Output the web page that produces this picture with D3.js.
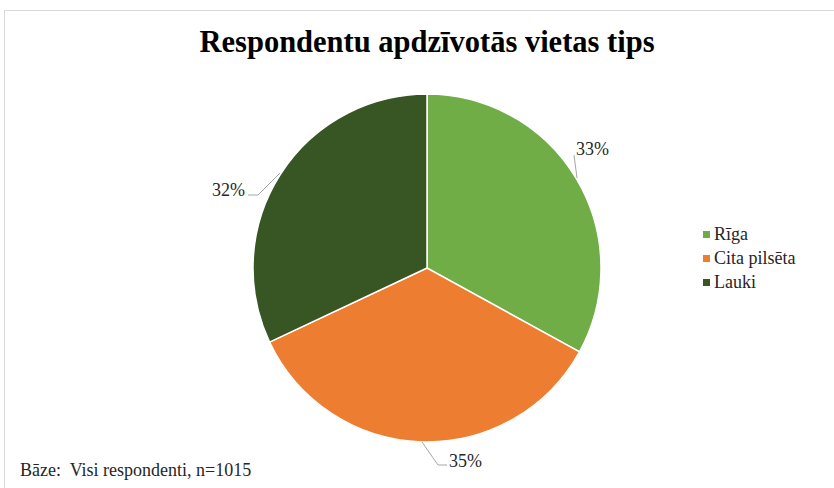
<!DOCTYPE html>
<html>
<head>
<meta charset="utf-8">
<script src="https://cdn.jsdelivr.net/npm/d3@7"></script>
<style>
  body { margin: 0; background: #fff; }
</style>
</head>
<body>
<div id="chart"></div>
<script>
// data
var categories = ["Rīga", "Cita pilsēta", "Lauki"];
var shares = [33, 35, 32];
var colors = ["#70AD47", "#ED7D31", "#375623"];
var titleText = "Respondentu apdzīvotās vietas tips";
var baseText = "Bāze:  Visi respondenti, n=1015";

var width = 834, height = 488;
var cx = 427, cy = 268, radius = 174;
var serif = "'Liberation Serif', 'Times New Roman', serif";

var svg = d3.select("#chart")
    .append("svg")
    .attr("width", width)
    .attr("height", height)
    .attr("font-family", serif);

// chart frame
svg.append("rect")
    .attr("x", 4.5).attr("y", 10.5)
    .attr("width", width + 10).attr("height", height + 10)
    .attr("fill", "#fff")
    .attr("stroke", "#d9d9d9");

svg.append("text")
    .attr("x", cx).attr("y", 52)
    .attr("text-anchor", "middle")
    .attr("font-family", serif)
    .attr("font-size", 30.5)
    .attr("font-weight", "bold")
    .text(titleText);

var data = categories.map(function(c, i) { return {name: c, value: shares[i], color: colors[i]}; });

var pie = d3.pie().sort(null).value(function(d) { return d.value; });
var arc = d3.arc().innerRadius(0).outerRadius(radius);
var arcs = pie(data);

var g = svg.append("g").attr("transform", "translate(" + cx + "," + cy + ")");

g.selectAll("path")
    .data(arcs)
    .enter()
    .append("path")
    .attr("d", arc)
    .attr("fill", function(d) { return d.data.color; })
    .attr("stroke", "#fff")
    .attr("stroke-width", 1.5);

// label placement with leader lines, as in the original
var labelPos = [
  {tx: 576, ty: 155, line: [[577, 178], [574, 155]], anchor: "start"},
  {tx: 449, ty: 467, line: [[422, 442], [438, 465], [447, 465]], anchor: "start"},
  {tx: 245, ty: 196, line: [[280, 173], [258, 195], [248, 195]], anchor: "end"}
];

arcs.forEach(function(d, i) {
  var p = labelPos[i];
  svg.append("polyline")
    .attr("points", p.line.map(function(q) { return q.join(","); }).join(" "))
    .attr("fill", "none")
    .attr("stroke", "#A6A6A6")
    .attr("stroke-width", 1);
  svg.append("text")
    .attr("x", p.tx).attr("y", p.ty)
    .attr("text-anchor", p.anchor)
    .attr("font-family", serif)
    .attr("font-size", 18)
    .attr("fill", "#262626")
    .text(d3.format(".0f")(d.data.value) + "%");
});

// legend
var legend = svg.append("g").attr("transform", "translate(703,240)");
var items = legend.selectAll("g")
    .data(data)
    .enter()
    .append("g")
    .attr("transform", function(d, i) { return "translate(0," + (i * 24) + ")"; });
items.append("rect")
    .attr("x", 0).attr("y", -9)
    .attr("width", 7).attr("height", 7)
    .attr("fill", function(d) { return d.color; });
items.append("text")
    .attr("x", 11).attr("y", 0)
    .attr("font-family", serif)
    .attr("font-size", 18)
    .attr("fill", "#262626")
    .text(function(d) { return d.name; });

svg.append("text")
    .attr("x", 20).attr("y", 476)
    .attr("font-family", serif)
    .attr("font-size", 18)
    .attr("fill", "#262626")
    .attr("xml:space", "preserve")
    .text(baseText);
</script>
</body>
</html>
